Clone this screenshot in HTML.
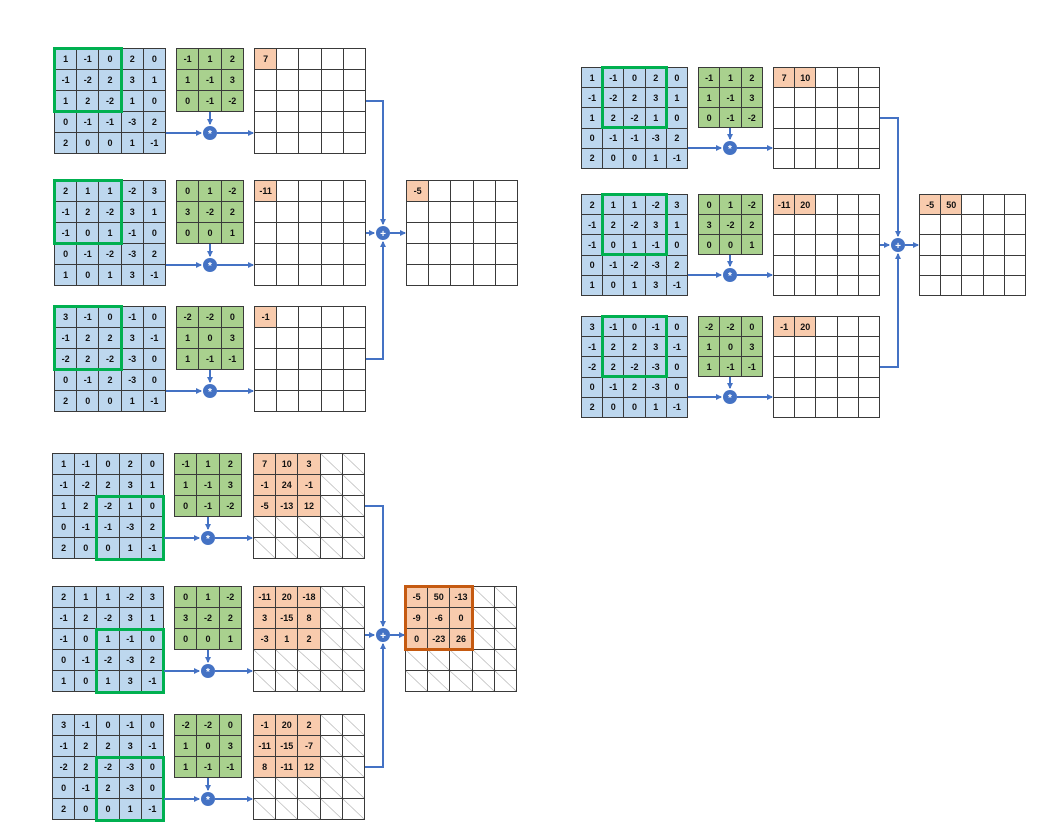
<!DOCTYPE html>
<html><head><meta charset="utf-8"><style>
body{margin:0;width:1043px;height:830px;background:#fff;position:relative;overflow:hidden;font-family:"Liberation Sans",sans-serif}
.g{position:absolute;display:grid;gap:1px;background:#3a3a3a;border:1px solid #3a3a3a;box-sizing:border-box}
.g5{grid-template-columns:repeat(5,1fr);grid-template-rows:repeat(5,1fr)}
.g3{grid-template-columns:repeat(3,1fr);grid-template-rows:repeat(3,1fr)}
.g i{font-style:normal;font-weight:bold;font-size:9px;display:flex;align-items:center;justify-content:center;background:#fff;color:#111}
.b i{background:#bdd7ee}.k i{background:#a9d18e}
.g i.o{background:#f8cbad}
.g i.d{background:linear-gradient(to top right,#fff 48%,#aaa 50%,#fff 52%)}
.A{width:112px;height:106px}.K{width:68px;height:64px}
.B{width:107px;height:102px}.KB{width:65px;height:61px}
.hl{position:absolute;border:3px solid #00b050;box-sizing:border-box}
.ho{position:absolute;border:3px solid #c55a11;box-sizing:border-box}
svg{position:absolute;left:0;top:0}
</style></head><body>

<!-- Panel A -->
<div class="g g5 A b" style="left:54px;top:48px"><i>1</i><i>-1</i><i>0</i><i>2</i><i>0</i><i>-1</i><i>-2</i><i>2</i><i>3</i><i>1</i><i>1</i><i>2</i><i>-2</i><i>1</i><i>0</i><i>0</i><i>-1</i><i>-1</i><i>-3</i><i>2</i><i>2</i><i>0</i><i>0</i><i>1</i><i>-1</i></div>
<div class="hl" style="left:53px;top:47px;width:70px;height:66px"></div>
<div class="g g3 K k" style="left:176px;top:48px"><i>-1</i><i>1</i><i>2</i><i>1</i><i>-1</i><i>3</i><i>0</i><i>-1</i><i>-2</i></div>
<div class="g g5 A" style="left:254px;top:48px"><i class="o">7</i><i></i><i></i><i></i><i></i><i></i><i></i><i></i><i></i><i></i><i></i><i></i><i></i><i></i><i></i><i></i><i></i><i></i><i></i><i></i><i></i><i></i><i></i><i></i><i></i></div>

<div class="g g5 A b" style="left:54px;top:180px"><i>2</i><i>1</i><i>1</i><i>-2</i><i>3</i><i>-1</i><i>2</i><i>-2</i><i>3</i><i>1</i><i>-1</i><i>0</i><i>1</i><i>-1</i><i>0</i><i>0</i><i>-1</i><i>-2</i><i>-3</i><i>2</i><i>1</i><i>0</i><i>1</i><i>3</i><i>-1</i></div>
<div class="hl" style="left:53px;top:179px;width:70px;height:66px"></div>
<div class="g g3 K k" style="left:176px;top:180px"><i>0</i><i>1</i><i>-2</i><i>3</i><i>-2</i><i>2</i><i>0</i><i>0</i><i>1</i></div>
<div class="g g5 A" style="left:254px;top:180px"><i class="o">-11</i><i></i><i></i><i></i><i></i><i></i><i></i><i></i><i></i><i></i><i></i><i></i><i></i><i></i><i></i><i></i><i></i><i></i><i></i><i></i><i></i><i></i><i></i><i></i><i></i></div>

<div class="g g5 A b" style="left:54px;top:306px"><i>3</i><i>-1</i><i>0</i><i>-1</i><i>0</i><i>-1</i><i>2</i><i>2</i><i>3</i><i>-1</i><i>-2</i><i>2</i><i>-2</i><i>-3</i><i>0</i><i>0</i><i>-1</i><i>2</i><i>-3</i><i>0</i><i>2</i><i>0</i><i>0</i><i>1</i><i>-1</i></div>
<div class="hl" style="left:53px;top:305px;width:70px;height:66px"></div>
<div class="g g3 K k" style="left:176px;top:306px"><i>-2</i><i>-2</i><i>0</i><i>1</i><i>0</i><i>3</i><i>1</i><i>-1</i><i>-1</i></div>
<div class="g g5 A" style="left:254px;top:306px"><i class="o">-1</i><i></i><i></i><i></i><i></i><i></i><i></i><i></i><i></i><i></i><i></i><i></i><i></i><i></i><i></i><i></i><i></i><i></i><i></i><i></i><i></i><i></i><i></i><i></i><i></i></div>

<div class="g g5 A" style="left:406px;top:180px"><i class="o">-5</i><i></i><i></i><i></i><i></i><i></i><i></i><i></i><i></i><i></i><i></i><i></i><i></i><i></i><i></i><i></i><i></i><i></i><i></i><i></i><i></i><i></i><i></i><i></i><i></i></div>

<!-- Panel B -->
<div class="g g5 B b" style="left:581px;top:67px"><i>1</i><i>-1</i><i>0</i><i>2</i><i>0</i><i>-1</i><i>-2</i><i>2</i><i>3</i><i>1</i><i>1</i><i>2</i><i>-2</i><i>1</i><i>0</i><i>0</i><i>-1</i><i>-1</i><i>-3</i><i>2</i><i>2</i><i>0</i><i>0</i><i>1</i><i>-1</i></div>
<div class="hl" style="left:601px;top:66px;width:67px;height:63px"></div>
<div class="g g3 KB k" style="left:698px;top:67px"><i>-1</i><i>1</i><i>2</i><i>1</i><i>-1</i><i>3</i><i>0</i><i>-1</i><i>-2</i></div>
<div class="g g5 B" style="left:773px;top:67px"><i class="o">7</i><i class="o">10</i><i></i><i></i><i></i><i></i><i></i><i></i><i></i><i></i><i></i><i></i><i></i><i></i><i></i><i></i><i></i><i></i><i></i><i></i><i></i><i></i><i></i><i></i><i></i></div>

<div class="g g5 B b" style="left:581px;top:194px"><i>2</i><i>1</i><i>1</i><i>-2</i><i>3</i><i>-1</i><i>2</i><i>-2</i><i>3</i><i>1</i><i>-1</i><i>0</i><i>1</i><i>-1</i><i>0</i><i>0</i><i>-1</i><i>-2</i><i>-3</i><i>2</i><i>1</i><i>0</i><i>1</i><i>3</i><i>-1</i></div>
<div class="hl" style="left:601px;top:193px;width:67px;height:63px"></div>
<div class="g g3 KB k" style="left:698px;top:194px"><i>0</i><i>1</i><i>-2</i><i>3</i><i>-2</i><i>2</i><i>0</i><i>0</i><i>1</i></div>
<div class="g g5 B" style="left:773px;top:194px"><i class="o">-11</i><i class="o">20</i><i></i><i></i><i></i><i></i><i></i><i></i><i></i><i></i><i></i><i></i><i></i><i></i><i></i><i></i><i></i><i></i><i></i><i></i><i></i><i></i><i></i><i></i><i></i></div>

<div class="g g5 B b" style="left:581px;top:316px"><i>3</i><i>-1</i><i>0</i><i>-1</i><i>0</i><i>-1</i><i>2</i><i>2</i><i>3</i><i>-1</i><i>-2</i><i>2</i><i>-2</i><i>-3</i><i>0</i><i>0</i><i>-1</i><i>2</i><i>-3</i><i>0</i><i>2</i><i>0</i><i>0</i><i>1</i><i>-1</i></div>
<div class="hl" style="left:601px;top:315px;width:67px;height:63px"></div>
<div class="g g3 KB k" style="left:698px;top:316px"><i>-2</i><i>-2</i><i>0</i><i>1</i><i>0</i><i>3</i><i>1</i><i>-1</i><i>-1</i></div>
<div class="g g5 B" style="left:773px;top:316px"><i class="o">-1</i><i class="o">20</i><i></i><i></i><i></i><i></i><i></i><i></i><i></i><i></i><i></i><i></i><i></i><i></i><i></i><i></i><i></i><i></i><i></i><i></i><i></i><i></i><i></i><i></i><i></i></div>

<div class="g g5 B" style="left:919px;top:194px"><i class="o">-5</i><i class="o">50</i><i></i><i></i><i></i><i></i><i></i><i></i><i></i><i></i><i></i><i></i><i></i><i></i><i></i><i></i><i></i><i></i><i></i><i></i><i></i><i></i><i></i><i></i><i></i></div>

<!-- Panel C -->
<div class="g g5 A b" style="left:52px;top:453px"><i>1</i><i>-1</i><i>0</i><i>2</i><i>0</i><i>-1</i><i>-2</i><i>2</i><i>3</i><i>1</i><i>1</i><i>2</i><i>-2</i><i>1</i><i>0</i><i>0</i><i>-1</i><i>-1</i><i>-3</i><i>2</i><i>2</i><i>0</i><i>0</i><i>1</i><i>-1</i></div>
<div class="hl" style="left:95px;top:495px;width:70px;height:66px"></div>
<div class="g g3 K k" style="left:174px;top:453px"><i>-1</i><i>1</i><i>2</i><i>1</i><i>-1</i><i>3</i><i>0</i><i>-1</i><i>-2</i></div>
<div class="g g5 A" style="left:253px;top:453px"><i class="o">7</i><i class="o">10</i><i class="o">3</i><i class="d"></i><i class="d"></i><i class="o">-1</i><i class="o">24</i><i class="o">-1</i><i class="d"></i><i class="d"></i><i class="o">-5</i><i class="o">-13</i><i class="o">12</i><i class="d"></i><i class="d"></i><i class="d"></i><i class="d"></i><i class="d"></i><i class="d"></i><i class="d"></i><i class="d"></i><i class="d"></i><i class="d"></i><i class="d"></i><i class="d"></i></div>

<div class="g g5 A b" style="left:52px;top:586px"><i>2</i><i>1</i><i>1</i><i>-2</i><i>3</i><i>-1</i><i>2</i><i>-2</i><i>3</i><i>1</i><i>-1</i><i>0</i><i>1</i><i>-1</i><i>0</i><i>0</i><i>-1</i><i>-2</i><i>-3</i><i>2</i><i>1</i><i>0</i><i>1</i><i>3</i><i>-1</i></div>
<div class="hl" style="left:95px;top:628px;width:70px;height:66px"></div>
<div class="g g3 K k" style="left:174px;top:586px"><i>0</i><i>1</i><i>-2</i><i>3</i><i>-2</i><i>2</i><i>0</i><i>0</i><i>1</i></div>
<div class="g g5 A" style="left:253px;top:586px"><i class="o">-11</i><i class="o">20</i><i class="o">-18</i><i class="d"></i><i class="d"></i><i class="o">3</i><i class="o">-15</i><i class="o">8</i><i class="d"></i><i class="d"></i><i class="o">-3</i><i class="o">1</i><i class="o">2</i><i class="d"></i><i class="d"></i><i class="d"></i><i class="d"></i><i class="d"></i><i class="d"></i><i class="d"></i><i class="d"></i><i class="d"></i><i class="d"></i><i class="d"></i><i class="d"></i></div>

<div class="g g5 A b" style="left:52px;top:714px"><i>3</i><i>-1</i><i>0</i><i>-1</i><i>0</i><i>-1</i><i>2</i><i>2</i><i>3</i><i>-1</i><i>-2</i><i>2</i><i>-2</i><i>-3</i><i>0</i><i>0</i><i>-1</i><i>2</i><i>-3</i><i>0</i><i>2</i><i>0</i><i>0</i><i>1</i><i>-1</i></div>
<div class="hl" style="left:95px;top:756px;width:70px;height:66px"></div>
<div class="g g3 K k" style="left:174px;top:714px"><i>-2</i><i>-2</i><i>0</i><i>1</i><i>0</i><i>3</i><i>1</i><i>-1</i><i>-1</i></div>
<div class="g g5 A" style="left:253px;top:714px"><i class="o">-1</i><i class="o">20</i><i class="o">2</i><i class="d"></i><i class="d"></i><i class="o">-11</i><i class="o">-15</i><i class="o">-7</i><i class="d"></i><i class="d"></i><i class="o">8</i><i class="o">-11</i><i class="o">12</i><i class="d"></i><i class="d"></i><i class="d"></i><i class="d"></i><i class="d"></i><i class="d"></i><i class="d"></i><i class="d"></i><i class="d"></i><i class="d"></i><i class="d"></i><i class="d"></i></div>

<div class="g g5 A" style="left:405px;top:586px"><i class="o">-5</i><i class="o">50</i><i class="o">-13</i><i class="d"></i><i class="d"></i><i class="o">-9</i><i class="o">-6</i><i class="o">0</i><i class="d"></i><i class="d"></i><i class="o">0</i><i class="o">-23</i><i class="o">26</i><i class="d"></i><i class="d"></i><i class="d"></i><i class="d"></i><i class="d"></i><i class="d"></i><i class="d"></i><i class="d"></i><i class="d"></i><i class="d"></i><i class="d"></i><i class="d"></i></div>
<div class="ho" style="left:404px;top:585px;width:70px;height:66px"></div>

<svg width="1043" height="830" viewBox="0 0 1043 830">
<defs><marker id="a" markerWidth="6" markerHeight="6" refX="5" refY="3" orient="auto" markerUnits="userSpaceOnUse"><path d="M0,0 L6,3 L0,6z" fill="#4472c4"/></marker></defs>
<g stroke="#4472c4" stroke-width="2" fill="none">
<!-- Panel A convs -->
<path d="M166,133 H201" marker-end="url(#a)"/><path d="M217,133 H253" marker-end="url(#a)"/><path d="M210,112 V124" marker-end="url(#a)"/>
<path d="M166,265 H201" marker-end="url(#a)"/><path d="M217,265 H253" marker-end="url(#a)"/><path d="M210,244 V256" marker-end="url(#a)"/>
<path d="M166,391 H201" marker-end="url(#a)"/><path d="M217,391 H253" marker-end="url(#a)"/><path d="M210,370 V382" marker-end="url(#a)"/>
<path d="M366,101 H383 V224" marker-end="url(#a)"/><path d="M366,233 H374" marker-end="url(#a)"/><path d="M366,359 H383 V242" marker-end="url(#a)"/><path d="M390,233 H405" marker-end="url(#a)"/>
<!-- Panel B -->
<path d="M688,148 H721" marker-end="url(#a)"/><path d="M737,148 H772" marker-end="url(#a)"/><path d="M730,128 V139" marker-end="url(#a)"/>
<path d="M688,275 H721" marker-end="url(#a)"/><path d="M737,275 H772" marker-end="url(#a)"/><path d="M730,255 V266" marker-end="url(#a)"/>
<path d="M688,397 H721" marker-end="url(#a)"/><path d="M737,397 H772" marker-end="url(#a)"/><path d="M730,377 V388" marker-end="url(#a)"/>
<path d="M880,118 H898 V236" marker-end="url(#a)"/><path d="M880,245 H889" marker-end="url(#a)"/><path d="M880,367 H898 V254" marker-end="url(#a)"/><path d="M905,245 H918" marker-end="url(#a)"/>
<!-- Panel C -->
<path d="M164,538 H199" marker-end="url(#a)"/><path d="M215,538 H252" marker-end="url(#a)"/><path d="M208,517 V529" marker-end="url(#a)"/>
<path d="M164,671 H199" marker-end="url(#a)"/><path d="M215,671 H252" marker-end="url(#a)"/><path d="M208,650 V662" marker-end="url(#a)"/>
<path d="M164,799 H199" marker-end="url(#a)"/><path d="M215,799 H252" marker-end="url(#a)"/><path d="M208,778 V790" marker-end="url(#a)"/>
<path d="M365,506 H383 V626" marker-end="url(#a)"/><path d="M365,635 H374" marker-end="url(#a)"/><path d="M365,767 H383 V644" marker-end="url(#a)"/><path d="M390,635 H404" marker-end="url(#a)"/>
</g>
<g fill="#4472c4">
<circle cx="210" cy="133" r="7"/><circle cx="210" cy="265" r="7"/><circle cx="210" cy="391" r="7"/><circle cx="383" cy="233" r="7"/>
<circle cx="730" cy="148" r="7"/><circle cx="730" cy="275" r="7"/><circle cx="730" cy="397" r="7"/><circle cx="898" cy="245" r="7"/>
<circle cx="208" cy="538" r="7"/><circle cx="208" cy="671" r="7"/><circle cx="208" cy="799" r="7"/><circle cx="383" cy="635" r="7"/>
</g>
<g fill="#fff" font-family="Liberation Sans,sans-serif" font-size="10" font-weight="bold" text-anchor="middle">
<text x="210" y="137">*</text><text x="210" y="269">*</text><text x="210" y="395">*</text><text x="383" y="237">+</text>
<text x="730" y="152">*</text><text x="730" y="279">*</text><text x="730" y="401">*</text><text x="898" y="249">+</text>
<text x="208" y="542">*</text><text x="208" y="675">*</text><text x="208" y="803">*</text><text x="383" y="639">+</text>
</g>
</svg>
</body></html>
